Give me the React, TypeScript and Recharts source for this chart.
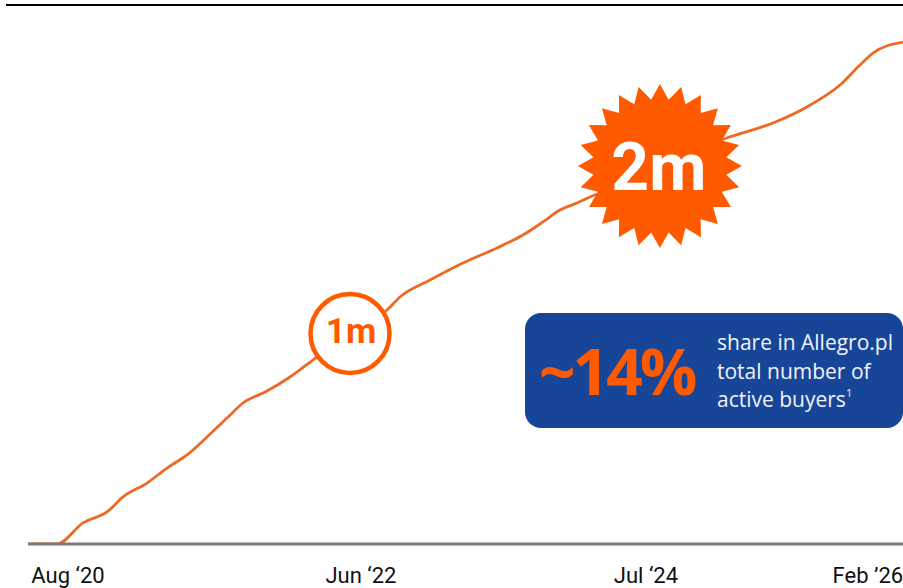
import React from "react";
import { LineChart, Line, XAxis, YAxis, ReferenceDot } from "recharts";

// Month offset from Aug '20 (x position) and active buyers in millions
const monthIdx = [-3.3, -0.91, 1.24, 3.22, 4.54, 6.52, 8.17, 9.82, 11.47, 13.12, 14.44, 16.42, 18.32, 20.21, 22.44, 24.34, 26.32, 27.39, 29.87, 32.59, 35.4, 37.54, 39.19, 40.59, 41.99, 43.07, 45.54, 48.84, 52.15, 54.37, 58.17, 60.97, 63.7, 65.35, 66.42, 68.89];
const buyersM = [0, 0, 0.108, 0.164, 0.241, 0.312, 0.389, 0.456, 0.548, 0.645, 0.722, 0.783, 0.855, 0.942, 1.045, 1.12, 1.198, 1.265, 1.352, 1.439, 1.516, 1.582, 1.649, 1.71, 1.746, 1.777, 1.838, 1.941, 2.028, 2.079, 2.156, 2.238, 2.35, 2.453, 2.514, 2.57];

const tickValues = [0, 24.17, 47.69, 66.0];
const tickLabels = ["Aug \u201820", "Jun \u201822", "Jul \u201824", "Feb \u201926"];

// Milestone annotations (x in month offset, y in millions)
const milestone1 = { x: 23.27, y: 1.078, label: "1m" };
const milestone2 = { x: 48.84, y: 1.935, label: "2m" };

const data = monthIdx.map((m, i) => ({ m, v: buyersM[i] }));

const ORANGE = "#FF5A00";
const LINE = "#EC6A24";
const BLUE = "#174597";

const XTick = (props: any) => {
  const { x, y, payload } = props;
  const idx = tickValues.indexOf(payload.value);
  return (
    <text x={x} y={y + 39} textAnchor="middle" fontFamily="Roboto" fontSize={22} fill="#111">
      {tickLabels[idx] ?? ""}
    </text>
  );
};

const CircleShape = (props: any) => {
  const { cx, cy } = props;
  return (
    <g>
      <circle cx={cx} cy={cy} r={39.5} fill="#fff" stroke={ORANGE} strokeWidth={4.5} />
      <text x={cx + 1} y={cy + 9.5} textAnchor="middle" fontFamily="Roboto" fontWeight={700} fontSize={35} fill={ORANGE}>
        {milestone1.label}
      </text>
    </g>
  );
};

const StarShape = (props: any) => {
  const { cx, cy } = props;
  const n = 24;
  const outer = 82;
  const inner = 67;
  const pts: string[] = [];
  for (let i = 0; i < n * 2; i++) {
    const a = (Math.PI * i) / n - Math.PI / 2;
    const r = i % 2 === 0 ? outer : inner;
    pts.push(`${(cx + r * Math.cos(a)).toFixed(2)},${(cy + r * Math.sin(a)).toFixed(2)}`);
  }
  return (
    <g>
      <polygon points={pts.join(" ")} fill={ORANGE} />
      <text x={cx - 1} y={cy + 24} textAnchor="middle" fontFamily="Roboto" fontWeight={700} fontSize={66} fill="#fff">
        {milestone2.label}
      </text>
    </g>
  );
};

export default function App() {
  return (
    <div style={{ position: "absolute", left: 0, top: 0, width: 903, height: 588, overflow: "hidden", background: "#fff" }}>
      <div style={{ position: "absolute", left: 6, top: 4, width: 897, height: 0, borderTop: "2.6px solid #000" }} />
      <LineChart width={903} height={588} data={data} margin={{ top: 5, right: 0, bottom: 0, left: 28 }}>
        <XAxis
          dataKey="m"
          type="number"
          domain={[-3.3, 68.9]}
          allowDataOverflow
          ticks={tickValues}
          interval={0}
          tick={<XTick />}
          tickLine={false}
          tickSize={0}
          tickMargin={0}
          height={44}
          axisLine={{ stroke: "#7a7a7a", strokeWidth: 3 }}
        />
        <YAxis hide domain={[0, 2.76]} type="number" allowDataOverflow />
        <Line type="monotone" dataKey="v" stroke={LINE} strokeWidth={2.8} dot={false} isAnimationActive={false} />
        <ReferenceDot x={milestone1.x} y={milestone1.y} r={40} shape={<CircleShape />} ifOverflow="visible" />
        <ReferenceDot x={milestone2.x} y={milestone2.y} r={80} shape={<StarShape />} ifOverflow="visible" />
      </LineChart>
      <svg width={903} height={588} style={{ position: "absolute", left: 0, top: 0, pointerEvents: "none" }}>
        <rect x={525} y={313} width={378} height={115} rx={16} ry={16} fill={BLUE} />
        <text x={539} y={395} fontFamily="'Open Sans'" fontWeight={700} fontSize={64} fill={ORANGE} letterSpacing={-3}>
          ~14%
        </text>
        <g fontFamily="'Open Sans'" fontSize={21} fill="#F0F3FA">
          <text x={717} y={350}>share in Allegro.pl</text>
          <text x={717} y={378.5}>total number of</text>
          <text x={717} y={407}>
            active buyers
            <tspan fontSize={11} dy={-10}>1</tspan>
          </text>
        </g>
      </svg>
    </div>
  );
}
